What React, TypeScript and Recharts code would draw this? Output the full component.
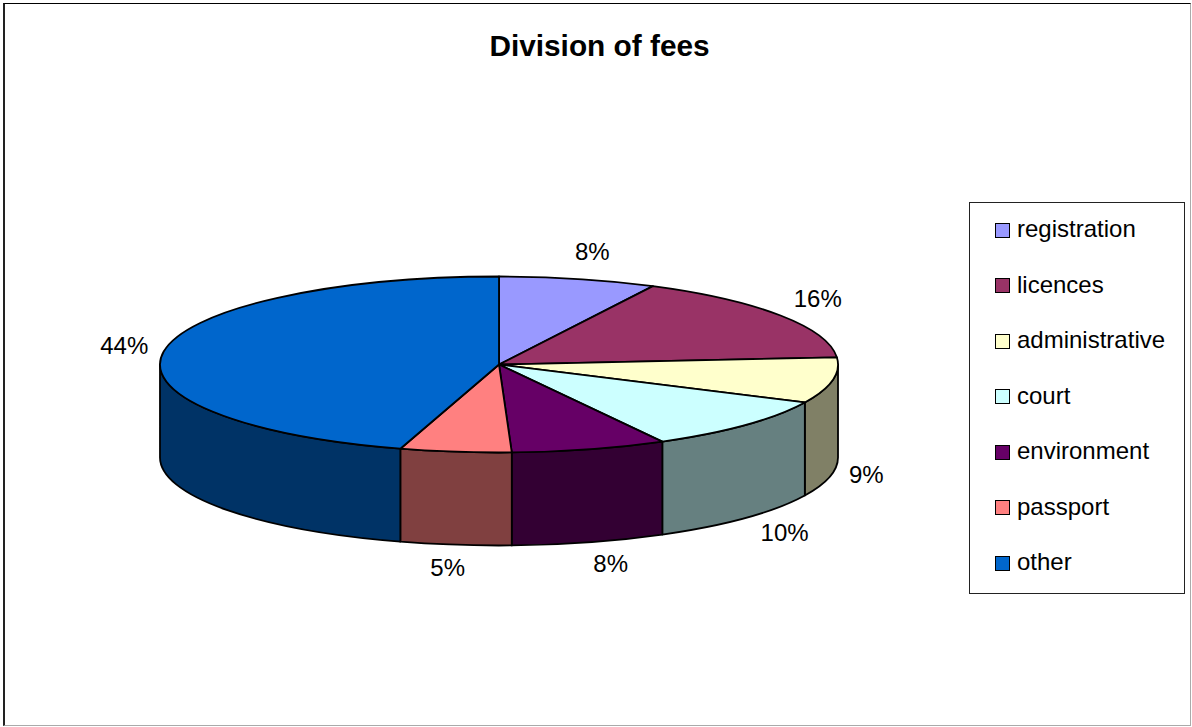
import React from 'react';
import { PieChart, Pie, Legend } from 'recharts';

const categories = ['registration', 'licences', 'administrative', 'court', 'environment', 'passport', 'other'];
// slice sizes as drawn on the disc (they differ a little from the printed labels)
const sliceShares = [7.5, 16.2, 8.4, 9.9, 7.4, 5.3, 45.3];
const percentLabels = ['8%', '16%', '9%', '10%', '8%', '5%', '44%'];
const topColors = ['#9999FF', '#993366', '#FFFFCC', '#CCFFFF', '#660066', '#FF8080', '#0066CC'];
const sideColors = ['#4C4C80', '#4C1A33', '#808066', '#668080', '#330033', '#804040', '#003366'];

const FONT = '"Liberation Sans", Arial, sans-serif';
const SQUASH = 88 / 339;
const DEPTH = 93;

const chartData = categories.map((name, i) => ({
  name,
  value: sliceShares[i],
  fill: topColors[i],
  side: sideColors[i],
  percent: percentLabels[i],
}));

const rad = (deg: number) => (deg * Math.PI) / 180;

// t is degrees clockwise from twelve o'clock
const rim = (cx: number, cy: number, rx: number, t: number) => ({
  x: cx + rx * Math.sin(rad(t)),
  y: cy - rx * SQUASH * Math.cos(rad(t)),
});

const Slice3D = (props: any) => {
  const { cx, cy, outerRadius: rx, startAngle, endAngle, fill, payload } = props;
  const ry = rx * SQUASH;
  const t0 = 90 - startAngle;
  const t1 = 90 - endAngle;
  const a = rim(cx, cy, rx, t0);
  const b = rim(cx, cy, rx, t1);
  const top = `M${cx},${cy} L${a.x},${a.y} A${rx},${ry} 0 ${t1 - t0 > 180 ? 1 : 0} 1 ${b.x},${b.y} Z`;

  // only the front half of the rim has a visible wall
  const w0 = Math.max(t0, 90);
  const w1 = Math.min(t1, 270);
  let wall = null;
  if (w1 > w0) {
    const p = rim(cx, cy, rx, w0);
    const q = rim(cx, cy, rx, w1);
    const d = `M${p.x},${p.y} A${rx},${ry} 0 0 1 ${q.x},${q.y} L${q.x},${q.y + DEPTH} A${rx},${ry} 0 0 0 ${p.x},${p.y + DEPTH} Z`;
    wall = <path d={d} fill={payload.side} stroke="#000" strokeWidth={1.8} strokeLinejoin="round" />;
  }
  return (
    <g>
      {wall}
      <path d={top} fill={fill} stroke="#000" strokeWidth={1.8} strokeLinejoin="round" />
    </g>
  );
};

const renderPercent = (props: any) => {
  const { cx, cy, midAngle, index } = props;
  const t = 90 - midAngle;
  const s = Math.sin(rad(t));
  const c = Math.cos(rad(t));
  const front = c < 0.1 && s > -0.5;
  const x = cx - 3 + s * (375 + 40 * c * c) + (c < 0 ? 5 * c * c : 0);
  const y = cy - 2.5 - c * 114 + (front ? 92 : 0);
  return (
    <text x={x} y={y} textAnchor="middle" dominantBaseline="central" fontFamily={FONT} fontSize={24} fill="#000">
      {percentLabels[index]}
    </text>
  );
};

const LegendBox = () => (
  <div
    style={{
      boxSizing: 'border-box',
      width: 216,
      height: 392,
      border: '1px solid #222',
      background: '#fff',
      fontFamily: FONT,
      fontSize: 24,
      color: '#000',
      position: 'relative',
    }}
  >
    {categories.map((name, i) => (
      <div key={name} style={{ position: 'absolute', left: 25, top: 8 + i * 55.5, height: 36, display: 'flex', alignItems: 'center' }}>
        <span style={{ boxSizing: 'border-box', width: 15, height: 15, border: '1.5px solid #000', background: topColors[i], marginRight: 7, marginTop: 2 }} />
        <span style={{ whiteSpace: 'nowrap' }}>{name}</span>
      </div>
    ))}
  </div>
);

export default function App() {
  return (
    <div style={{ position: 'absolute', left: 0, top: 0, width: 1192, height: 727, background: '#fff', overflow: 'hidden' }}>
      <div
        style={{
          position: 'absolute',
          left: 3,
          top: 3,
          width: 1188,
          height: 723,
          boxSizing: 'border-box',
          borderTop: '1px solid #000',
          borderLeft: '2px solid #222',
          borderRight: '1px solid #aaa',
          borderBottom: '1px solid #aaa',
        }}
      />
      <PieChart width={1192} height={727} margin={{ top: 0, right: 0, bottom: 0, left: 0 }}>
        <text x={599.5} y={45.5} textAnchor="middle" dominantBaseline="central" fontFamily={FONT} fontSize={29.8} fontWeight="bold" fill="#000">
          Division of fees
        </text>
        <Pie
          data={chartData}
          dataKey="value"
          nameKey="name"
          cx={499}
          cy={364.5}
          innerRadius={0}
          outerRadius={339}
          startAngle={90}
          endAngle={-270}
          shape={Slice3D}
          label={renderPercent}
          labelLine={false}
          isAnimationActive={false}
        />
        <Legend
          layout="vertical"
          align="right"
          verticalAlign="middle"
          content={<LegendBox />}
          wrapperStyle={{ position: 'absolute', left: 969, top: 202, width: 216, height: 392 }}
        />
      </PieChart>
    </div>
  );
}
